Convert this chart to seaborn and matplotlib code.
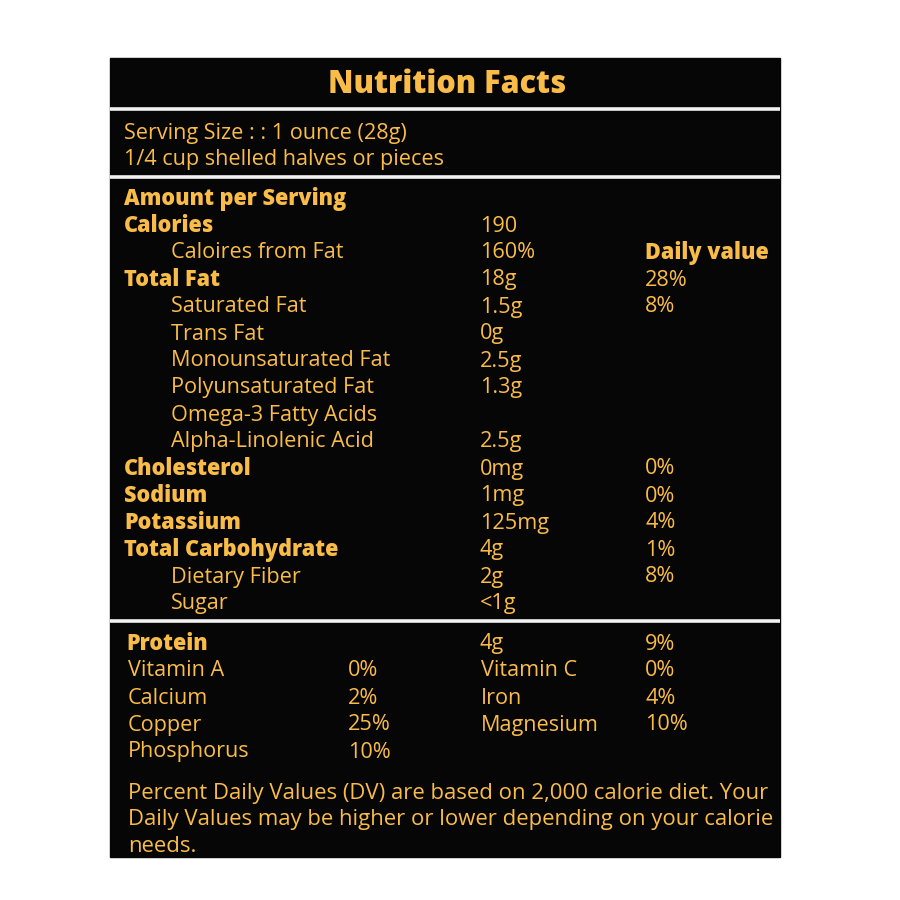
import matplotlib
matplotlib.use("Agg")
import matplotlib.pyplot as plt
import seaborn as sns

# label data
title = "Nutrition Facts"
serving_lines = ["Serving Size : : 1 ounce (28g)", "1/4 cup shelled halves or pieces"]

nutrients = ["Amount per Serving", "Calories", "Caloires from Fat", "Total Fat",
             "Saturated Fat", "Trans Fat", "Monounsaturated Fat", "Polyunsaturated Fat",
             "Omega-3 Fatty Acids", "Alpha-Linolenic Acid", "Cholesterol", "Sodium",
             "Potassium", "Total Carbohydrate", "Dietary Fiber", "Sugar"]
amounts = ["", "190", "160%", "18g", "1.5g", "0g", "2.5g", "1.3g", "", "2.5g",
           "0mg", "1mg", "125mg", "4g", "2g", "<1g"]
daily = ["", "", "Daily value", "28%", "8%", "", "", "", "", "", "0%", "0%", "4%",
         "1%", "8%", ""]
is_bold = [True, True, False, True, False, False, False, False, False, False,
           True, True, True, True, False, False]

protein = ["Protein", "4g", "9%"]
vit_left = ["Vitamin A", "Calcium", "Copper", "Phosphorus"]
vit_left_pct = ["0%", "2%", "25%", "10%"]
vit_right = ["Vitamin C", "Iron", "Magnesium"]
vit_right_pct = ["0%", "4%", "10%"]

footnote = ["Percent Daily Values (DV) are based on 2,000 calorie diet. Your",
            "Daily Values may be higher or lower depending on your calorie",
            "needs."]

sns.set_theme(style="white")
plt.rcParams["font.family"] = ["Open Sans", "DejaVu Sans"]

gold = "#FABC48"
fs = 15.6
fig = plt.figure(figsize=(9, 9), dpi=100, facecolor="white")
ax = fig.add_axes([0, 0, 1, 1])
ax.set_xlim(0, 900)
ax.set_ylim(900, 0)
ax.axis("off")

ax.add_patch(plt.Rectangle((110, 58), 670, 799, color="#060606", zorder=0))
for y in [109, 177, 621]:
    ax.hlines(y, 110, 780, color="#f2f2f2", lw=2.6, zorder=1)

ax.text(447, 85, title, color=gold, fontsize=22, fontweight="heavy",
        ha="center", va="center")
for i, s in enumerate(serving_lines):
    ax.text(124, 133 + 26 * i, s, color=gold, fontsize=fs, va="center")

for i, name in enumerate(nutrients):
    y = 199 + 27 * i
    x = 124 if is_bold[i] else 171
    ax.text(x, y, name, color=gold, fontsize=fs, va="center",
            fontweight="heavy" if is_bold[i] else "normal")
    ax.text(480, y, amounts[i], color=gold, fontsize=fs, va="center")
    ax.text(645, y, daily[i], color=gold, fontsize=fs, va="center",
            fontweight="heavy" if daily[i] == "Daily value" else "normal")

ax.text(126, 644, protein[0], color=gold, fontsize=fs, va="center", fontweight="heavy")
ax.text(480, 644, protein[1], color=gold, fontsize=fs, va="center")
ax.text(645, 644, protein[2], color=gold, fontsize=fs, va="center")

for i, (n, p) in enumerate(zip(vit_left, vit_left_pct)):
    y = 671 + 27 * i
    ax.text(128, y, n, color=gold, fontsize=fs, va="center")
    ax.text(348, y, p, color=gold, fontsize=fs, va="center")
for i, (n, p) in enumerate(zip(vit_right, vit_right_pct)):
    y = 671 + 27 * i
    ax.text(481, y, n, color=gold, fontsize=fs, va="center")
    ax.text(645, y, p, color=gold, fontsize=fs, va="center")

for i, s in enumerate(footnote):
    ax.text(128, 793 + 27 * i, s, color=gold, fontsize=15.9, va="center")

fig.savefig("out.png", dpi=100, facecolor="white")
